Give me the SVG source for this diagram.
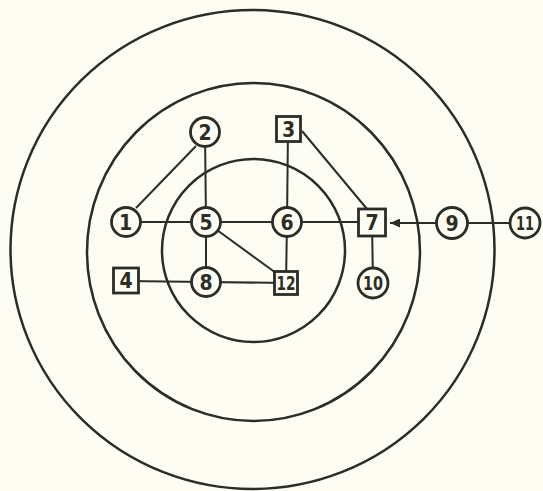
<svg xmlns="http://www.w3.org/2000/svg" width="543" height="491" viewBox="0 0 543 491">
<style>
.ring{fill:none;stroke:#2b2d26;stroke-width:2.5}
.e{stroke:#2b2d26;stroke-width:2;fill:none}
.c{fill:#fdfdf4;stroke:#2b2d26;stroke-width:2.8}
.t{font-family:"DejaVu Sans Condensed","DejaVu Sans",sans-serif;font-weight:bold;font-size:21px;fill:#2b2d26;text-anchor:middle}
.t2{font-size:20px}
</style>
<defs>
<marker id="ah" markerUnits="userSpaceOnUse" markerWidth="11" markerHeight="9" refX="10" refY="4.5" orient="auto">
<path d="M0,0 L10,4.5 L0,9 z" fill="#2b2d26"/>
</marker>
</defs>
<rect width="543" height="491" fill="#fdfdf4"/>
<g id="rings">
<ellipse class="ring" cx="252.5" cy="249.5" rx="242" ry="239.5"/>
<ellipse class="ring" cx="253.5" cy="252" rx="166.5" ry="169"/>
<circle class="ring" cx="253.5" cy="250.5" r="91.5"/>
</g>
<g id="connectors">
<line class="e" x1="136" y1="208" x2="196" y2="146"/>
<line class="e" x1="126" y1="222" x2="206" y2="222"/>
<line class="e" x1="205" y1="132" x2="206" y2="222"/>
<line class="e" x1="206" y1="222" x2="287" y2="222"/>
<line class="e" x1="206" y1="222" x2="206" y2="282"/>
<line class="e" x1="206" y1="222" x2="276" y2="273"/>
<line class="e" x1="288" y1="129" x2="287" y2="222"/>
<line class="e" x1="287" y1="222" x2="286" y2="283"/>
<line class="e" x1="287" y1="222" x2="372" y2="222"/>
<line class="e" x1="302" y1="131" x2="367" y2="209"/>
<line class="e" x1="372" y1="222" x2="373" y2="283"/>
<line class="e" x1="437" y1="223" x2="390" y2="223" marker-end="url(#ah)"/>
<line class="e" x1="452" y1="223" x2="525" y2="223"/>
<line class="e" x1="126" y1="281" x2="206" y2="282"/>
<line class="e" x1="206" y1="282" x2="286" y2="283"/>
</g>
<g id="n1"><circle class="c" cx="126" cy="222" r="14.5"/><text class="t" x="125.5" y="229.5">1</text></g>
<g id="n2"><circle class="c" cx="205" cy="132" r="14.5"/><text class="t" x="205" y="139.5">2</text></g>
<g id="n3"><rect class="c" x="276.5" y="116.5" width="24" height="25"/><text class="t" x="288.5" y="136.5">3</text></g>
<g id="n4"><rect class="c" x="113.5" y="268" width="25" height="25"/><text class="t" x="126" y="288">4</text></g>
<g id="n5"><circle class="c" cx="206" cy="222" r="14.5"/><text class="t" x="206" y="229.5">5</text></g>
<g id="n6"><circle class="c" cx="287" cy="222" r="14.5"/><text class="t" x="287" y="229.5">6</text></g>
<g id="n7"><rect class="c" x="358.5" y="209" width="27" height="27"/><text class="t" x="372" y="230">7</text></g>
<g id="n8"><circle class="c" cx="206" cy="282" r="14.5"/><text class="t" x="206" y="289.5">8</text></g>
<g id="n9"><circle class="c" cx="452" cy="223" r="15.5"/><text class="t" x="452" y="230.5">9</text></g>
<g id="n10"><circle class="c" cx="373" cy="283" r="15"/><text class="t t2" x="373" y="290" textLength="20" lengthAdjust="spacingAndGlyphs">10</text></g>
<g id="n11"><circle class="c" cx="525" cy="223" r="15"/><text class="t t2" x="525" y="230" textLength="18" lengthAdjust="spacingAndGlyphs">11</text></g>
<g id="n12"><rect class="c" x="274.5" y="271.5" width="23" height="23"/><text class="t t2" x="286" y="290" textLength="19" lengthAdjust="spacingAndGlyphs">12</text></g>
</svg>
